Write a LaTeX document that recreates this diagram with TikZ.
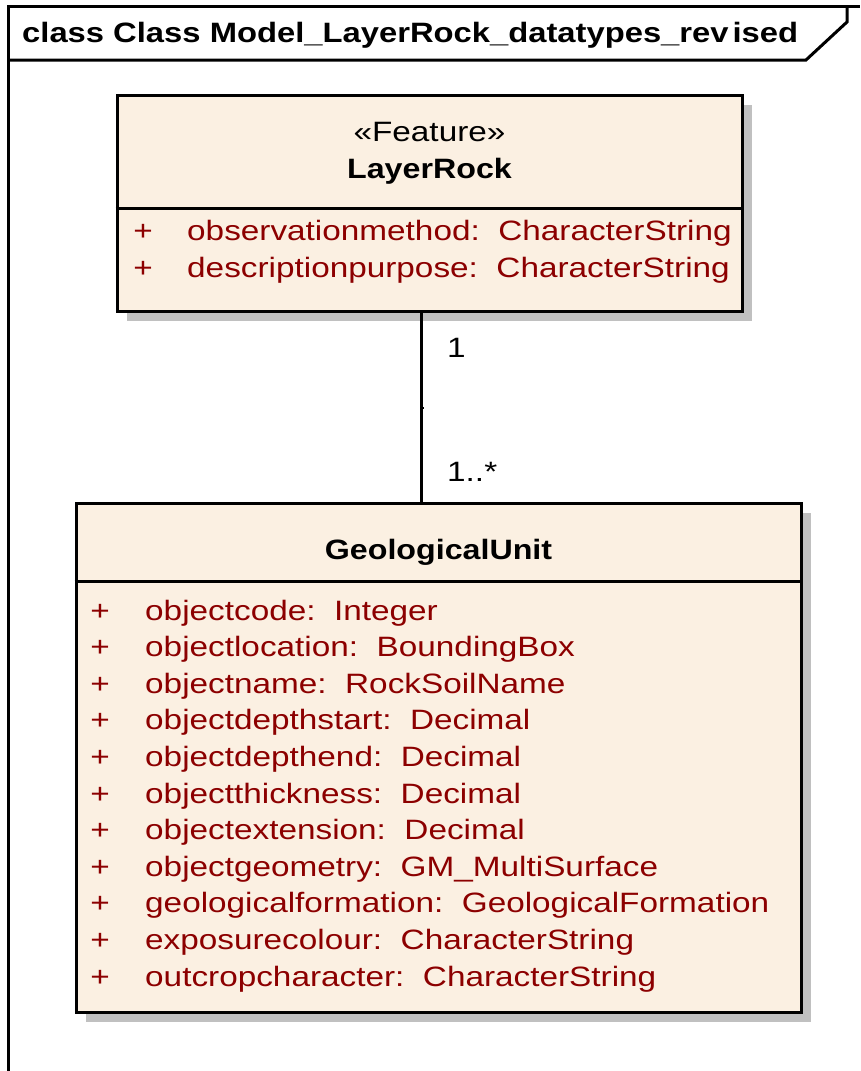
\documentclass[tikz,border=0pt]{standalone}
\usepackage{fontspec}
\setmainfont{Liberation Sans}[FakeStretch=1.19]
\newfontfamily\boldfam{Liberation Sans}[FakeStretch=1.15]
\newfontfamily\titlefam{Liberation Sans}[FakeStretch=1.17]
\usetikzlibrary{shadows}
\definecolor{umlfill}{RGB}{251,240,226}
\definecolor{attrred}{RGB}{140,0,0}
\definecolor{shadowgray}{RGB}{192,192,192}
\begin{document}
\begin{tikzpicture}[x=1pt,y=-1pt,
  classbox/.style={draw=black,line width=3pt,fill=umlfill,rectangle,inner sep=0pt,
    drop shadow={shadow xshift=10pt,shadow yshift=-10pt,fill=shadowgray,opacity=1}},
  lineblk/.style={draw=black,line width=3pt},
  txt/.style={inner sep=0pt,font=\fontsize{28}{33}\selectfont},
  attr/.style={txt,anchor=base west,text=attrred},
  plus/.style={txt,anchor=base,text=attrred},
  cname/.style={txt,anchor=base,font=\fontsize{28}{33}\selectfont\boldfam\bfseries},
  mult/.style={txt,anchor=base west,text=black}]
\useasboundingbox (0,0) rectangle (860,1071);
% frame
\draw[lineblk] (8,1071) -- (8,6) -- (860,6);
\draw[lineblk] (8,60) -- (806,60) -- (847,22) -- (847,6);
\node[txt,anchor=base west,font=\fontsize{28}{33}\selectfont\titlefam\bfseries] (title) at (22,42)
  {class Class Model\_LayerRock\_datatypes\_rev\kern4pt ised};
% LayerRock
\node[classbox,minimum width=625pt,minimum height=216pt] (lr) at (429.5,203) {};
\draw[lineblk] (lr.west |- 0,208) -- (lr.east |- 0,208);
\node[txt,anchor=base] (lrst) at (429.5,141) {«Feature»};
\node[cname] (lrname) at (429.5,178) {LayerRock};
\node[plus] (lrp1) at (143,240) {+};
\node[attr] (lra1) at (187,240) {observationmethod:\ \ CharacterString};
\node[plus] (lrp2) at (143,277) {+};
\node[attr] (lra2) at (187,277) {descriptionpurpose:\ \ CharacterString};
% GeologicalUnit
\node[classbox,minimum width=725pt,minimum height=509pt] (gu) at (438.5,757.5) {};
\draw[lineblk] (gu.west |- 0,581) -- (gu.east |- 0,581);
\node[cname] (guname) at (438.5,559) {GeologicalUnit};
\foreach \i/\t in {0/{objectcode:\ \ Integer},
                   1/{objectlocation:\ \ BoundingBox},
                   2/{objectname:\ \ RockSoilName},
                   3/{objectdepthstart:\ \ Decimal},
                   4/{objectdepthend:\ \ Decimal},
                   5/{objectthickness:\ \ Decimal},
                   6/{objectextension:\ \ Decimal},
                   7/{objectgeometry:\ \ GM\_MultiSurface},
                   8/{geologicalformation:\ \ GeologicalFormation},
                   9/{exposurecolour:\ \ CharacterString},
                   10/{outcropcharacter:\ \ CharacterString}}{
  \node[plus] (gup\i) at (100,620+36.6*\i) {+};
  \node[attr] (gua\i) at (145,620+36.6*\i) {\t};
}
% association
\coordinate (cx) at (421,0);
\coordinate (mid) at (421,408);
\draw[lineblk] (lr.south -| cx) -- (gu.north -| cx);
\draw[line width=1.5pt] (mid) -- ++(3,0);
\node[mult] (m1) at (447,357) {1};
\node[mult] (m2) at (447,481) {1..*};
\end{tikzpicture}
\end{document}
